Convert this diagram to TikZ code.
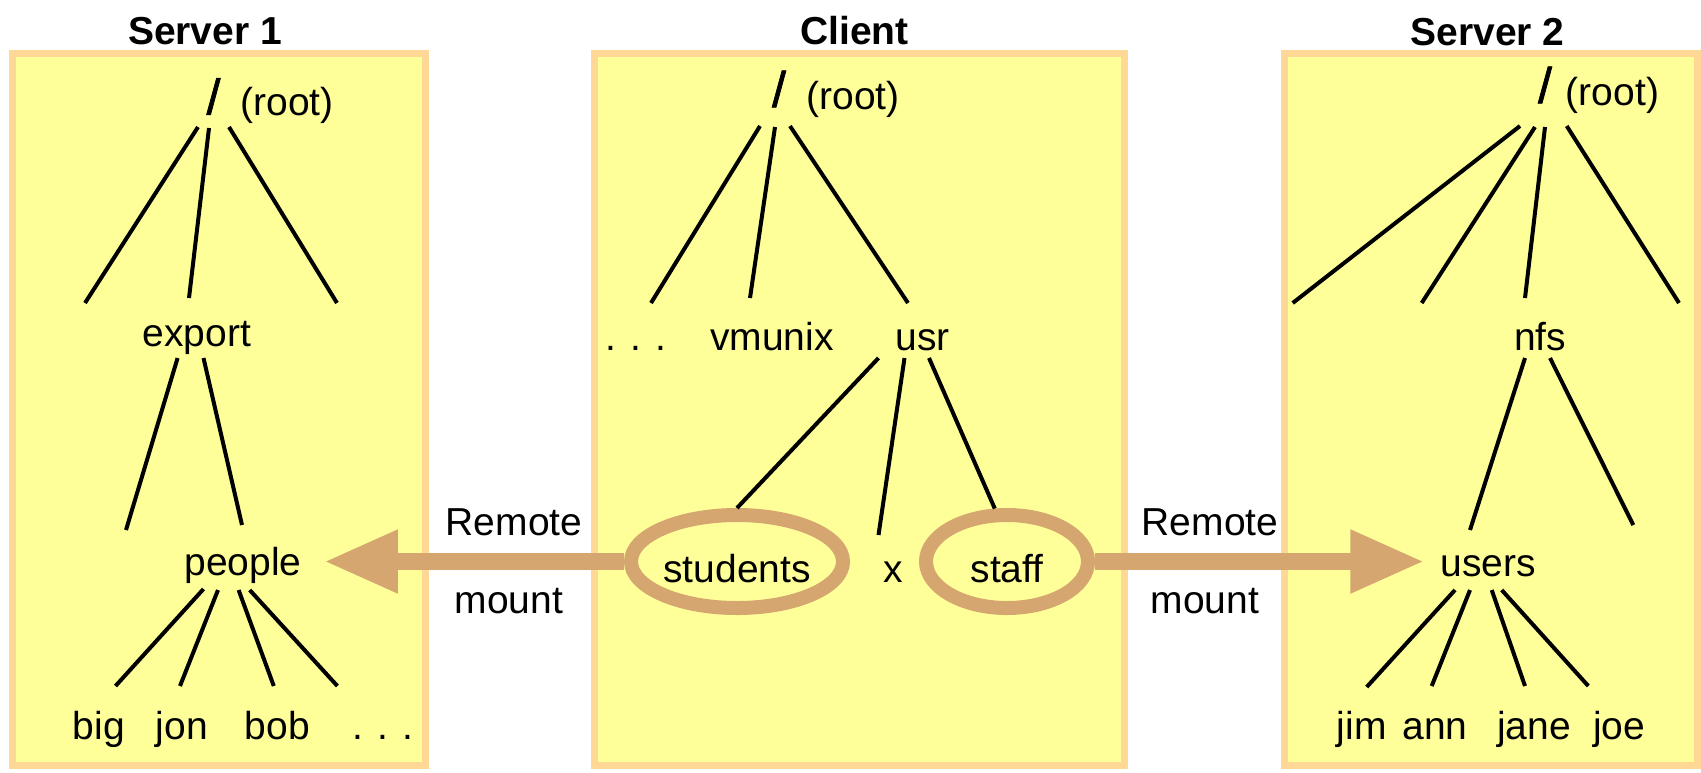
\documentclass[tikz,border=0pt]{standalone}
\usepackage{fontspec}
\setmainfont{Liberation Sans}
\usetikzlibrary{positioning,shapes.geometric,arrows.meta}

\definecolor{panelfill}{RGB}{255,255,153}
\definecolor{panelline}{RGB}{255,216,150}
\definecolor{mounttan}{RGB}{214,166,112}

\tikzset{
  panel/.style={fill=panelfill,draw=panelline,line width=3.5pt},
  branch/.style={line width=2pt},
  dirname/.style={anchor=base,inner sep=0pt,font=\fontsize{19.5}{23}\selectfont},
  paneltitle/.style={dirname,font=\fontsize{19.5}{23}\selectfont\bfseries},
  rootslash/.style={inner sep=0pt,font=\fontsize{25}{30}\selectfont\addfontfeature{FakeBold=1.5}},
  mountring/.style={ellipse,draw=mounttan,line width=7pt,inner sep=0pt,
    text height=20.5pt,text depth=0pt,font=\fontsize{19.5}{23}\selectfont},
  mountarrow/.style={draw=mounttan,line width=8.5pt,
    -{Triangle[length=37pt,width=29.5pt]}},
}

\begin{document}
\begin{tikzpicture}[x=0.5pt,y=-0.5pt]
	%% one unit = one pixel of the 1701x772 frame, y going down
	\useasboundingbox (0,0) rectangle (1701,772);

	\draw[panel] (12.5,53.5) rectangle (425.5,765.5);   % server 1
	\draw[panel] (594.5,53.5) rectangle (1124.5,765.5); % client
	\draw[panel] (1284.5,53.5) rectangle (1697.5,765.5);% server 2

	\node[paneltitle] (srv1) at (205,44) {Server 1};
	\node[paneltitle] (client) at (854.6,44) {Client};
	\node[paneltitle] (srv2) at (1487.5,45) {Server 2};

	% server 1 tree
	\node[rootslash] (root1) at (213.5,96.5) {/};
	\node[dirname] (root1lbl) at (287,115) {(root)};
	\node[dirname] (export) at (197,346) {export};
	\node[dirname] (people) at (243,575) {people};
	\node[dirname] (big) at (99,739) {big};
	\node[dirname] (jon) at (182,739) {jon};
	\node[dirname] (bob) at (277.5,739) {bob};
	\node[dirname] (more1) at (383,739) {. . .};

	\path (198,127) coordinate (s1root1) (85,303) coordinate (s1root1x)
	      (209,128) coordinate (s1root2) (189,298) coordinate (s1root2x)
	      (229,127) coordinate (s1root3) (337,303) coordinate (s1root3x)
	      (177.6,358) coordinate (s1exp1) (126,530) coordinate (s1exp1x)
	      (203.5,358) coordinate (s1exp2) (242,525) coordinate (s1exp2x)
	      (203.5,589) coordinate (s1ppl1) (115.5,686) coordinate (s1ppl1x)
	      (218,590) coordinate (s1ppl2) (180,686) coordinate (s1ppl2x)
	      (238.6,590) coordinate (s1ppl3) (273.8,686) coordinate (s1ppl3x)
	      (249.7,590) coordinate (s1ppl4) (337.4,686) coordinate (s1ppl4x);
	\foreach \e in {root1,root2,root3,exp1,exp2,ppl1,ppl2,ppl3,ppl4}
		\draw[branch] (s1\e) -- (s1\e x);

	% client tree
	\node[rootslash] (root2) at (779,89) {/};
	\node[dirname] (root2lbl) at (853,109) {(root)};
	\node[dirname] (more2) at (636,350) {. . .};
	\node[dirname] (vmunix) at (772,350) {vmunix};
	\node[dirname] (usr) at (922.6,350) {usr};
	\node[mountring,minimum width=106pt,minimum height=46.5pt] (students) at (737,561.5) {students};
	\node[dirname] (x) at (893.5,582) {x};
	\node[mountring,minimum width=81pt,minimum height=46.5pt] (staff) at (1007,561.5) {staff};

	\path (760,126) coordinate (croot1) (651,303) coordinate (croot1x)
	      (775,127) coordinate (croot2) (750,298) coordinate (croot2x)
	      (790,126) coordinate (croot3) (908,303) coordinate (croot3x)
	      (878.5,358) coordinate (cusr1)
	      (904.5,358) coordinate (cusr2) (878.5,535) coordinate (cusr2x)
	      (929,358) coordinate (cusr3);
	\foreach \e in {root1,root2,root3,usr2}
		\draw[branch] (c\e) -- (c\e x);
	\draw[branch] (cusr1) -- (students.north);
	\draw[branch] (cusr3) -- (staff.103);

	% server 2 tree
	\node[rootslash] (root3) at (1545,85) {/};
	\node[dirname] (root3lbl) at (1612.5,105) {(root)};
	\node[dirname] (nfs) at (1540,350) {nfs};
	\node[dirname] (users) at (1488,576) {users};
	\node[dirname] (jim) at (1361.7,739) {jim};
	\node[dirname] (ann) at (1435,739) {ann};
	\node[dirname] (jane) at (1534,739) {jane};
	\node[dirname] (joe) at (1619,739) {joe};

	\path (1520,126) coordinate (s2root1) (1292.7,303) coordinate (s2root1x)
	      (1535,127) coordinate (s2root2) (1421.7,303) coordinate (s2root2x)
	      (1545,127) coordinate (s2root3) (1525,298) coordinate (s2root3x)
	      (1566.7,126) coordinate (s2root4) (1679,303) coordinate (s2root4x)
	      (1525,358) coordinate (s2nfs1) (1470,530) coordinate (s2nfs1x)
	      (1550,358) coordinate (s2nfs2) (1633.3,525) coordinate (s2nfs2x)
	      (1455,590) coordinate (s2usr1) (1366.7,687) coordinate (s2usr1x)
	      (1470,590) coordinate (s2usr2) (1431.7,686) coordinate (s2usr2x)
	      (1491.7,590) coordinate (s2usr3) (1525,686) coordinate (s2usr3x)
	      (1501.7,590) coordinate (s2usr4) (1588.3,686) coordinate (s2usr4x);
	\foreach \e in {root1,root2,root3,root4,nfs1,nfs2,usr1,usr2,usr3,usr4}
		\draw[branch] (s2\e) -- (s2\e x);

	% remote mounts
	\draw[mountarrow,shorten >=11pt] (students.west) -- (students.west -| people.east);
	\draw[mountarrow,shorten >=7.75pt] (staff.east) -- (staff.east -| users.west);
	\node[dirname] (remote1) at (514,535) {Remote};
	\node[dirname] (mount1) at (509,613) {mount};
	\node[dirname] (remote2) at (1210,535) {Remote};
	\node[dirname] (mount2) at (1205,613) {mount};
\end{tikzpicture}
\end{document}
